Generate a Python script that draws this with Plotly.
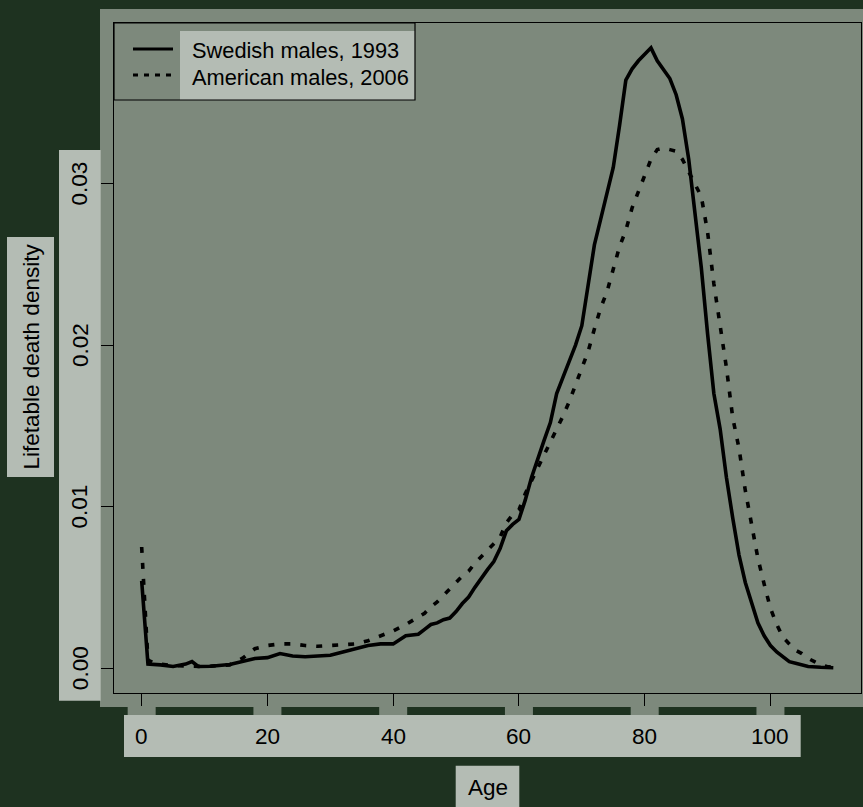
import plotly.graph_objects as go

# Lifetable death density by age
swe_age = [0, 1, 3, 5, 7, 8, 9, 11, 14, 16, 18, 20, 22, 24, 26, 28, 30, 32, 34, 36, 38, 40,
           42, 44, 45, 46, 47, 48, 49, 50, 51, 52, 53, 54, 55, 56, 57, 58, 59, 60, 61, 62,
           63, 64, 65, 66, 67, 68, 69, 70, 71, 72, 73, 74, 75, 76, 77, 78, 79, 80, 81, 82,
           83, 84, 85, 86, 87, 88, 89, 90, 91, 92, 93, 94, 95, 96, 97, 98, 99, 100, 101,
           102, 103, 104, 106, 108, 110]
swe_dens = [0.0054, 0.00025, 0.0002, 0.0001, 0.00025, 0.0004, 0.0001, 0.00012, 0.00022,
            0.0004, 0.0006, 0.00065, 0.0009, 0.00075, 0.0007, 0.00075, 0.0008, 0.001,
            0.0012, 0.0014, 0.0015, 0.0015, 0.002, 0.0021, 0.0024, 0.0027, 0.0028, 0.003,
            0.0031, 0.0035, 0.004, 0.0044, 0.005, 0.0056, 0.0061, 0.0066, 0.0074, 0.0085,
            0.0089, 0.0092, 0.0104, 0.0118, 0.013, 0.0141, 0.0152, 0.017, 0.018, 0.019,
            0.02, 0.0212, 0.0236, 0.0262, 0.0278, 0.0293, 0.031, 0.0336, 0.0364, 0.0371,
            0.0376, 0.038, 0.0384, 0.0376, 0.037, 0.0365, 0.0355, 0.034, 0.0315, 0.0283,
            0.0248, 0.0207, 0.017, 0.0148, 0.0118, 0.0093, 0.007, 0.0053, 0.004, 0.0028,
            0.002, 0.0014, 0.001, 0.0007, 0.0004, 0.0003, 0.0001, 0.00005, 0.00002]

usa_age = [0, 1, 2, 5, 10, 14, 15, 16, 18, 20, 22, 24, 26, 28, 30, 32, 34, 36, 38, 40, 42,
           44, 45, 46, 47, 48, 49, 50, 51, 52, 53, 54, 55, 56, 57, 58, 59, 60, 61, 62, 63,
           64, 65, 66, 67, 68, 69, 70, 71, 72, 73, 74, 75, 76, 77, 78, 79, 80, 81, 82, 83,
           84, 85, 86, 87, 88, 89, 90, 91, 92, 93, 94, 95, 96, 97, 98, 99, 100, 101, 102,
           103, 104, 105, 106, 107, 108, 109, 110]
usa_dens = [0.0075, 0.0005, 0.0003, 0.00015, 0.0001, 0.0002, 0.0004, 0.0006, 0.0012,
            0.0014, 0.0015, 0.0015, 0.0014, 0.00135, 0.0014, 0.00145, 0.0015, 0.0017,
            0.002, 0.0023, 0.0027, 0.0032, 0.0034, 0.0038, 0.0041, 0.0045, 0.0049, 0.0053,
            0.0057, 0.006, 0.0065, 0.0069, 0.0073, 0.0077, 0.0081, 0.009, 0.0095, 0.0098,
            0.0108, 0.0116, 0.0124, 0.0131, 0.014, 0.0147, 0.0156, 0.0165, 0.0175, 0.0185,
            0.0196, 0.021, 0.0223, 0.0233, 0.0248, 0.0261, 0.0271, 0.0285, 0.0295, 0.0305,
            0.0315, 0.0321, 0.0322, 0.0321, 0.032, 0.0315, 0.0307, 0.03, 0.0292, 0.027,
            0.0238, 0.0212, 0.0186, 0.0155, 0.0136, 0.011, 0.009, 0.0068, 0.0052, 0.0037,
            0.0027, 0.0019, 0.0015, 0.0011, 0.0009, 0.0006, 0.0004, 0.0002, 0.0001, 0.00005]

series_names = ["Swedish males, 1993", "American males, 2006"]
x_ticks = [0, 20, 40, 60, 80, 100]
x_tick_text = ["0", "20", "40", "60", "80", "100"]
y_ticks = [0.00, 0.01, 0.02, 0.03]
y_tick_text = ["0.00", "0.01", "0.02", "0.03"]
x_title = "Age"
y_title = "Lifetable death density"

# Page geometry (pixels)
W, H = 863, 807
ML, MR, MT, MB = 114, 2, 23, 114
PW, PH = W - ML - MR, H - MT - MB

DARK = "#1e3220"
PANEL = "#7d897c"
LIGHT = "#b4bcb4"
INK = "#000000"
FONT = "Liberation Sans, Arial, sans-serif"
FS = 22.5
FS_LEG = 21.8


def px(xp):
    return (xp - ML) / PW


def py(yp):
    return (H - MB - yp) / PH


def box(x0, y0, x1, y1, color, layer="below", line=None):
    return dict(type="rect", xref="paper", yref="paper", x0=px(x0), x1=px(x1),
                y0=py(y1), y1=py(y0), fillcolor=color, layer=layer,
                line=line or dict(width=0))


fig = go.Figure()
fig.add_trace(go.Scatter(x=swe_age, y=swe_dens, mode="lines", name=series_names[0],
                         line=dict(color=INK, width=3.6), showlegend=False))
fig.add_trace(go.Scatter(x=usa_age, y=usa_dens, mode="lines", name=series_names[1],
                         line=dict(color=INK, width=3.6, dash="6px,10px"), showlegend=False))

shapes = [
    box(100, 9, 863, 707, PANEL),          # panel behind plot
    box(59, 150, 100.7, 700.7, LIGHT),      # y tick label strip
    box(124, 715, 800.7, 757, LIGHT),       # x tick label strip
    box(7, 237, 54, 477, LIGHT),            # y title
    box(455.7, 765.7, 519.3, 807, LIGHT),   # x title
]
# panel notches under each x tick
for t in x_ticks:
    shapes.append(dict(type="rect", xref="x", yref="paper", xsizemode="pixel", xanchor=t,
                       x0=-14, x1=14, y0=py(715), y1=py(706), fillcolor=PANEL,
                       line=dict(width=0), layer="below"))
# legend
shapes.append(box(180, 31, 415, 100, LIGHT))
shapes.append(box(114, 23, 415, 100, "rgba(0,0,0,0)", layer="above",
                  line=dict(color=INK, width=1.2)))
shapes.append(dict(type="line", xref="paper", yref="paper", x0=px(133), x1=px(173),
                   y0=py(49), y1=py(49), line=dict(color=INK, width=3)))
shapes.append(dict(type="line", xref="paper", yref="paper", x0=px(133), x1=px(173),
                   y0=py(75), y1=py(75), line=dict(color=INK, width=3, dash="5px,6px")))

annotations = []
for t, s in zip(x_ticks, x_tick_text):
    annotations.append(dict(x=t, xref="x", y=py(736), yref="paper", text=s,
                            showarrow=False, xanchor="center", yanchor="middle",
                            font=dict(size=FS, color=INK, family=FONT)))
for t, s in zip(y_ticks, y_tick_text):
    annotations.append(dict(x=px(80), xref="paper", y=t, yref="y", text=s, textangle=-90,
                            showarrow=False, xanchor="center", yanchor="middle",
                            font=dict(size=FS, color=INK, family=FONT)))
annotations.append(dict(x=px(30.5), xref="paper", y=py(357), yref="paper", text=y_title,
                        textangle=-90, showarrow=False, xanchor="center", yanchor="middle",
                        font=dict(size=FS, color=INK, family=FONT)))
annotations.append(dict(x=px(487.5), xref="paper", y=py(787), yref="paper", text=x_title,
                        showarrow=False, xanchor="center", yanchor="middle",
                        font=dict(size=FS, color=INK, family=FONT)))
for yy, name in zip([51, 77], series_names):
    annotations.append(dict(x=px(190), xref="paper", y=py(yy), yref="paper", text=name,
                            showarrow=False, xanchor="left", yanchor="middle",
                            font=dict(size=FS_LEG, color=INK, family=FONT)))

axis_common = dict(showline=True, mirror=True, linecolor=INK, linewidth=1.2,
                   ticks="outside", ticklen=12, tickcolor=INK, tickwidth=1.2,
                   showticklabels=False, showgrid=False, zeroline=False)

fig.update_layout(
    width=W, height=H,
    margin=dict(l=ML, r=MR, t=MT, b=MB),
    paper_bgcolor=DARK, plot_bgcolor="rgba(0,0,0,0)",
    xaxis=dict(range=[-4.4, 114.4], tickvals=x_ticks, **axis_common),
    yaxis=dict(range=[-0.00154, 0.03994], tickvals=y_ticks, **axis_common),
    shapes=shapes, annotations=annotations, showlegend=False,
)

fig.write_html("out.html")
